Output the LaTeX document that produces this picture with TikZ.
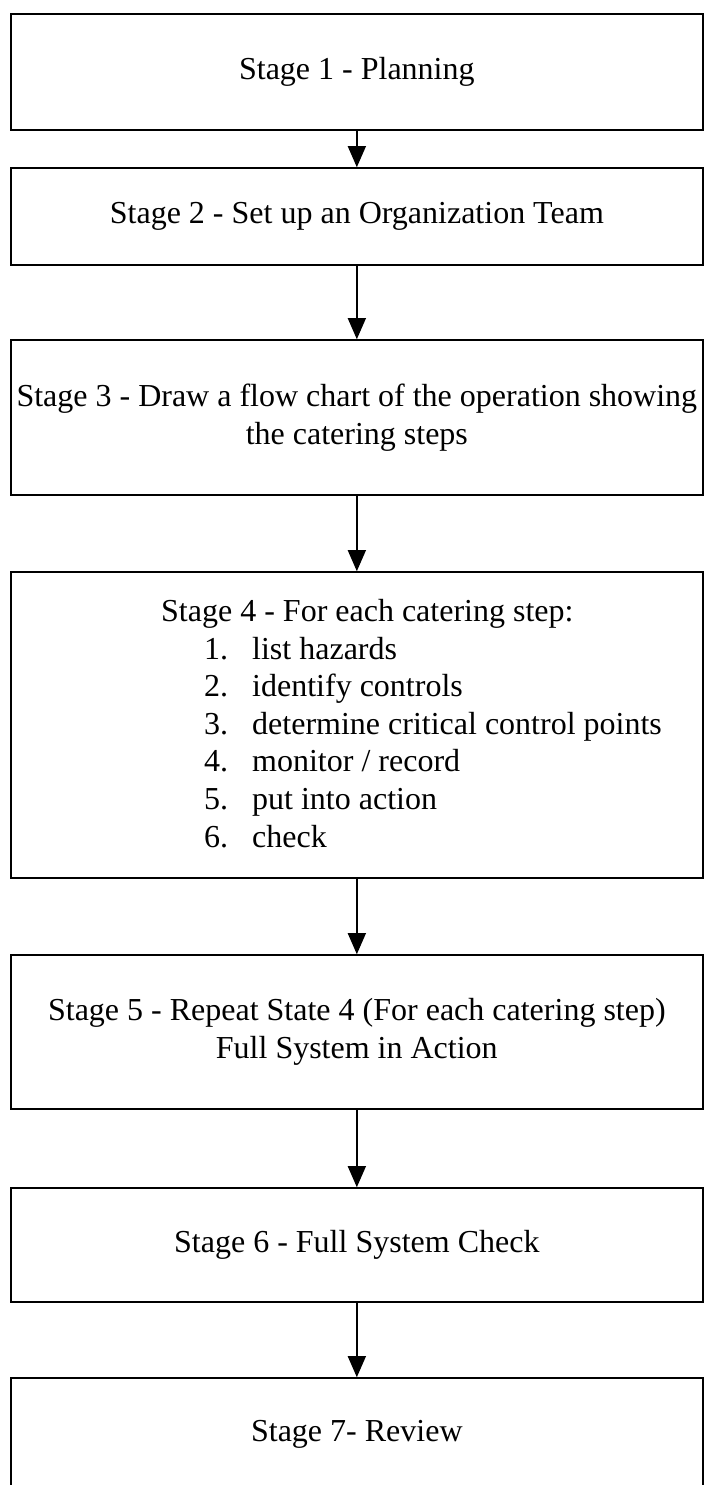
\documentclass[tikz,border=0pt]{standalone}
\usepackage{fontspec}
\setmainfont{Liberation Serif}
\usetikzlibrary{arrows.meta}
\begin{document}
\begin{tikzpicture}[x=1pt,y=-1pt,
  stagefont/.style={font=\fontsize{32}{37.6}\selectfont},
  stagebox/.style={draw=black, line width=1.6pt, minimum width=692.3pt,
    inner xsep=2pt, align=center, stagefont},
  flow/.style={line width=1.3pt, -{Triangle[width=18pt,length=21pt]}}]
% page frame
\clip (0,0) rectangle (709,1485);
\fill[white] (0,0) rectangle (709,1485);

% stage boxes
\node[stagebox, minimum height=116pt] (b1) at (356.85,72) {Stage 1 - Planning};
\node[stagebox, minimum height=97pt] (b2) at (356.85,216.5) {Stage 2 - Set up an Organization Team};
\node[stagebox, minimum height=155pt] (b3) at (356.85,417.5)
  {Stage 3 - Draw a flow chart of the operation showing\\the catering steps};
\node[stagebox, minimum height=306pt] (b4) at (356.85,725) {};
\node[stagefont, anchor=west, align=left, inner sep=0pt] (b4txt) at (161,723.5)
  {Stage 4 - For each catering step:\\
   \hspace*{43pt}\makebox[48pt][l]{1.}list hazards\\
   \hspace*{43pt}\makebox[48pt][l]{2.}identify controls\\
   \hspace*{43pt}\makebox[48pt][l]{3.}determine critical control points\\
   \hspace*{43pt}\makebox[48pt][l]{4.}monitor / record\\
   \hspace*{43pt}\makebox[48pt][l]{5.}put into action\\
   \hspace*{43pt}\makebox[48pt][l]{6.}check};
\node[stagebox, minimum height=154pt] (b5) at (356.85,1032)
  {Stage 5 - Repeat State 4 (For each catering step)\\Full System in Action};
\node[stagebox, minimum height=114pt] (b6) at (356.85,1245) {Stage 6 - Full System Check};
\node[stagebox, minimum height=112pt] (b7) at (356.85,1434) {Stage 7- Review};

% connectors
\draw[flow] (b1) -- (b2);
\draw[flow] (b2) -- (b3);
\draw[flow] (b3) -- (b4);
\draw[flow] (b4) -- (b5);
\draw[flow] (b5) -- (b6);
\draw[flow] (b6) -- (b7);
\end{tikzpicture}
\end{document}
